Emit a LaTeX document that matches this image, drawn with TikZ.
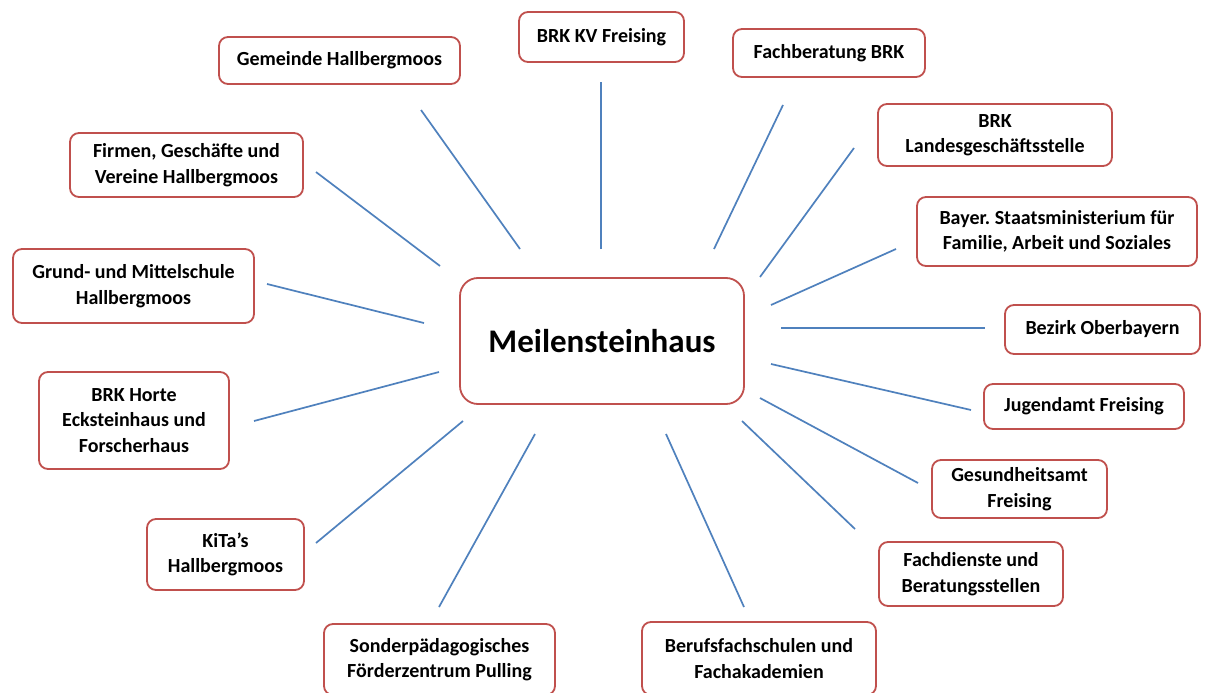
\documentclass[tikz,border=0pt]{standalone}
\usepackage{fontspec}
\setmainfont{Carlito}
\frenchspacing
\definecolor{boxred}{HTML}{C0504D}
\definecolor{linkblue}{HTML}{4F81BD}
\tikzset{
  partner/.style={draw=boxred, line width=1.8pt, rounded corners=9pt, fill=white,
    align=center, inner sep=0pt,
    font=\fontsize{20}{25.5}\selectfont\bfseries},
  hub/.style={draw=boxred, line width=1.8pt, rounded corners=18pt, fill=white,
    inner sep=0pt, font=\fontsize{33}{40}\selectfont\bfseries},
  link/.style={draw=linkblue, line width=1.7pt}
}
\begin{document}
\begin{tikzpicture}[x=1pt,y=-1pt]
\useasboundingbox (0,0) rectangle (1205,693);
\fill[white] (0,0) rectangle (1205,693);

% hub
\node[hub, minimum width=284pt, minimum height=126pt] (hub) at (602,341) {Meilensteinhaus};

% partners
\node[partner, minimum width=241pt, minimum height=47pt] (gem)   at (339.5,60.5) {Gemeinde Hallbergmoos};
\node[partner, minimum width=165pt, minimum height=50pt] (kv)    at (601.5,37)   {BRK KV Freising};
\node[partner, minimum width=192pt, minimum height=48pt] (fach)  at (829,53)     {Fachberatung BRK};
\node[partner, minimum width=234pt, minimum height=62pt] (lgs)   at (995,135)    {BRK\\Landesgeschäftsstelle};
\node[partner, minimum width=280pt, minimum height=69pt] (bay)   at (1057,231.5) {Bayer. Staatsministerium für\\Familie, Arbeit und Soziales};
\node[partner, minimum width=195pt, minimum height=49pt] (bez)   at (1102.5,329.5) {Bezirk Oberbayern};
\node[partner, minimum width=200pt, minimum height=45pt] (jug)   at (1084,406.5) {Jugendamt Freising};
\node[partner, minimum width=175pt, minimum height=58pt] (ges)   at (1019.5,489) {Gesundheitsamt\\Freising};
\node[partner, minimum width=184pt, minimum height=64pt] (fdb)   at (971,574)    {Fachdienste und\\Beratungsstellen};
\node[partner, minimum width=234pt, minimum height=73pt] (ber)   at (759,658.5)  {Berufsfachschulen und\\Fachakademien};
\node[partner, minimum width=231pt, minimum height=71pt] (son)   at (439.5,659.5) {Sonderpädagogisches\\Förderzentrum Pulling};
\node[partner, minimum width=157pt, minimum height=71pt] (kita)  at (225.5,554.5) {KiTa's\\Hallbergmoos};
\node[partner, minimum width=190pt, minimum height=97pt] (horte) at (134,420.5)  {BRK Horte\\Ecksteinhaus und\\Forscherhaus};
\node[partner, minimum width=241pt, minimum height=74pt] (grund) at (133.5,286)  {Grund- und Mittelschule\\Hallbergmoos};
\node[partner, minimum width=233pt, minimum height=64pt] (firm)  at (186.5,165)  {Firmen, Geschäfte und\\Vereine Hallbergmoos};

% connector end points (lines float between hub and boxes)
\coordinate (gem-o) at (421,110);   \coordinate (gem-i) at (520,249);
\coordinate (kv-o) at (601,82);     \coordinate (kv-i) at (601,249);
\coordinate (fach-o) at (783,105);  \coordinate (fach-i) at (714,249);
\coordinate (lgs-o) at (854,148);   \coordinate (lgs-i) at (760,277);
\coordinate (bay-o) at (896,249);   \coordinate (bay-i) at (771,305);
\coordinate (bez-o) at (985,328);   \coordinate (bez-i) at (781,328);
\coordinate (jug-o) at (971,410);   \coordinate (jug-i) at (771,364);
\coordinate (ges-o) at (918,483);   \coordinate (ges-i) at (760,398);
\coordinate (fdb-o) at (855,529);   \coordinate (fdb-i) at (742,421);
\coordinate (ber-o) at (744,607);   \coordinate (ber-i) at (666,434);
\coordinate (son-o) at (439,607);   \coordinate (son-i) at (535,434);
\coordinate (kita-o) at (316,543);  \coordinate (kita-i) at (463,421);
\coordinate (horte-o) at (254,421); \coordinate (horte-i) at (439,372);
\coordinate (grund-o) at (267,284); \coordinate (grund-i) at (424,323);
\coordinate (firm-o) at (316,172);  \coordinate (firm-i) at (440,266);

\foreach \n in {gem,kv,fach,lgs,bay,bez,jug,ges,fdb,ber,son,kita,horte,grund,firm}
  \draw[link] (\n-i) -- (\n-o);
\end{tikzpicture}
\end{document}
